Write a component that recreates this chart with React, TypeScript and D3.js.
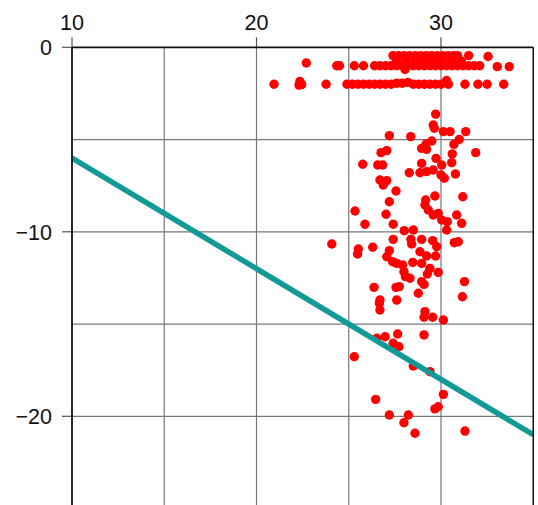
import React from "react";
import * as d3 from "d3";

const xTicks = [10, 20, 30];
const yTicks = [0, -10, -20];
const xGrid = [15, 20, 25, 30];
const yGrid = [-5, -10, -15, -20];
const xDomain = [10, 35];
const yDomain = [0, -25];

// reference line (x, y)
const lineX = [10, 35];
const lineY = [-6, -21];

// shallow band of points near the top
const bandPoints: [number, number][] = [
  [20.95, -2.0], [22.35, -1.85], [22.45, -2.02], [22.3, -2.05], [23.77, -2.0],
  [24.9, -2.0], [25.2, -2.0], [25.5, -2.0], [25.8, -2.0], [26.1, -2.0], [26.4, -2.0],
  [26.7, -2.0], [27.0, -2.0], [27.3, -2.0], [27.6, -1.95], [27.9, -1.95], [28.2, -1.9],
  [28.5, -2.0], [28.8, -2.0], [29.1, -2.0], [29.4, -2.0], [29.7, -2.0], [30.0, -2.0],
  [30.3, -1.8], [30.4, -2.0], [31.3, -2.0], [32.0, -2.0], [32.5, -2.0], [33.4, -2.0],
  [22.7, -0.85], [24.35, -1.0], [24.5, -1.0], [25.3, -1.0], [25.8, -1.0],
  [26.4, -1.0], [26.7, -1.0], [27.0, -1.0], [27.3, -1.0], [27.6, -1.0], [27.9, -1.0],
  [28.2, -1.0], [28.5, -1.0], [28.8, -1.0], [29.1, -1.0], [29.4, -1.0], [29.7, -1.0],
  [30.0, -1.0], [30.3, -1.0], [30.6, -1.0], [30.9, -1.0], [31.2, -1.0], [31.5, -1.0],
  [31.8, -1.0], [32.1, -1.0], [33.05, -1.05], [33.7, -1.05], [28.05, -1.2],
  [27.4, -0.45], [27.7, -0.45], [28.0, -0.45], [28.3, -0.45], [28.6, -0.45], [28.9, -0.45],
  [29.2, -0.45], [29.5, -0.45], [29.8, -0.45], [30.1, -0.45], [30.4, -0.45], [30.7, -0.45],
  [30.9, -0.45], [31.5, -0.45], [32.55, -0.5],
  [27.6, -0.75], [28.1, -0.75], [28.6, -0.75], [29.1, -0.75], [29.6, -0.75], [30.1, -0.75],
  [30.6, -0.75], [31.1, -0.75],
];

// deeper scattered points
const cloudPoints: [number, number][] = [
  [29.71, -3.62], [29.58, -4.21], [29.64, -4.39], [30.13, -4.57], [30.49, -4.57], [31.34, -4.57],
  [27.2, -4.79], [28.36, -4.84], [29.5, -5.08], [29.19, -5.24], [28.95, -5.48], [29.22, -5.53],
  [30.99, -4.99], [30.7, -5.26], [31.88, -5.71], [27.06, -5.6], [26.75, -5.71], [30.61, -5.78],
  [25.76, -6.34], [26.57, -6.38], [26.84, -6.38], [29.73, -6.02], [28.95, -6.29], [30.04, -6.38],
  [30.58, -6.25], [28.28, -6.8], [28.86, -6.8], [29.22, -6.74], [29.58, -6.65], [30.0, -6.92],
  [30.18, -7.1], [30.78, -6.87], [26.69, -7.19], [27.06, -7.23], [26.87, -7.46], [27.56, -7.79],
  [29.17, -8.28], [29.67, -8.06], [31.18, -8.1], [27.2, -8.37], [29.13, -8.55], [29.31, -8.82],
  [25.34, -8.87], [27.02, -9.05], [29.58, -9.09], [29.85, -9.0], [30.04, -9.36], [30.34, -9.45],
  [30.31, -9.9], [30.85, -9.09], [31.12, -9.54], [25.88, -9.59], [27.41, -9.59], [28.01, -9.94],
  [28.5, -9.9], [24.08, -10.66], [27.41, -10.41], [28.37, -10.41], [28.41, -10.66], [28.95, -10.41],
  [29.55, -10.48], [29.77, -10.81], [30.72, -10.59], [30.94, -10.54], [25.52, -10.93], [25.48, -11.2],
  [26.3, -10.84], [27.2, -11.02], [27.06, -11.35], [27.38, -11.62], [27.6, -11.71], [27.92, -11.8],
  [28.47, -11.66], [28.86, -11.08], [28.95, -11.71], [29.22, -11.31], [29.71, -11.31], [29.4, -11.98],
  [29.26, -12.29], [29.85, -12.2], [27.99, -12.16], [28.07, -12.43], [28.32, -12.52], [28.95, -12.7],
  [29.08, -12.85], [31.27, -12.7], [26.37, -13.01], [27.56, -13.01], [27.74, -12.97], [28.77, -13.33],
  [31.16, -13.52], [26.69, -13.7], [27.6, -13.7], [26.66, -13.88], [26.69, -14.24], [29.13, -14.33],
  [29.08, -14.63], [29.55, -14.63], [30.13, -14.78], [26.52, -15.77], [26.97, -15.69], [27.65, -15.54],
  [29.08, -15.59], [27.41, -16.04], [27.72, -16.23], [25.3, -16.77], [28.5, -17.27], [29.4, -17.58],
  [30.13, -18.81], [26.46, -19.08], [29.67, -19.6], [29.85, -19.48], [27.2, -19.93], [28.23, -19.93],
  [27.99, -20.35], [28.59, -20.92], [31.3, -20.8],
];

const W = 538;
const H = 505;
const left = 72;
const top = 47.3;
const unit = 18.45;

export default function App() {
  const x = d3.scaleLinear().domain(xDomain).range([left, left + 25 * unit]);
  const y = d3.scaleLinear().domain(yDomain).range([top, top + 25 * unit]);
  const [x0, x1] = x.range();
  const [y0, y1] = y.range();
  const all = [...bandPoints, ...cloudPoints];
  const linePath = d3
    .line<number>()
    .x((_, i) => x(lineX[i]))
    .y((_, i) => y(lineY[i]))(lineX);
  const font = "'Liberation Sans', Arial, Helvetica, sans-serif";
  return (
    <svg
      width={W}
      height={H}
      style={{ position: "absolute", left: 0, top: 0, background: "#fff" }}
    >
      <defs>
        <clipPath id="plot">
          <rect x={x0} y={y0} width={x1 - x0} height={y1 - y0} />
        </clipPath>
      </defs>
      {xGrid.map((v) => (
        <line key={"gx" + v} x1={x(v)} x2={x(v)} y1={y0} y2={y1} stroke="#777" strokeWidth={1.2} />
      ))}
      {yGrid.map((v) => (
        <line key={"gy" + v} x1={x0} x2={x1} y1={y(v)} y2={y(v)} stroke="#777" strokeWidth={1.2} />
      ))}
      {xTicks.map((v) => (
        <g key={"tx" + v}>
          <line x1={x(v)} x2={x(v)} y1={y0 - 10} y2={y0} stroke="#555" strokeWidth={1.2} />
          <text x={x(v)} y={30} textAnchor="middle" fontFamily={font} fontSize={21.5} fill="#111">
            {v}
          </text>
        </g>
      ))}
      {yTicks.map((v) => (
        <g key={"ty" + v}>
          <line x1={x0 - 10} x2={x0} y1={y(v)} y2={y(v)} stroke="#555" strokeWidth={1.2} />
          <text x={52} y={y(v)} dy="0.36em" textAnchor="end" fontFamily={font} fontSize={21.5} fill="#111">
            {v < 0 ? "\u2212" + Math.abs(v) : String(v)}
          </text>
        </g>
      ))}
      <g clipPath="url(#plot)">
        {all.map((p, i) => (
          <circle key={i} cx={x(p[0])} cy={y(p[1])} r={4.7} fill="#ff0000" />
        ))}
        <path d={linePath || ""} stroke="#119a96" strokeWidth={5.5} fill="none" />
      </g>
      <line x1={x0} x2={x1} y1={y0} y2={y0} stroke="#111" strokeWidth={1.8} />
      <line x1={x0} x2={x0} y1={y0} y2={y1} stroke="#111" strokeWidth={1.8} />
      <line x1={x1} x2={x1} y1={y0} y2={y1} stroke="#111" strokeWidth={1.5} />
    </svg>
  );
}
